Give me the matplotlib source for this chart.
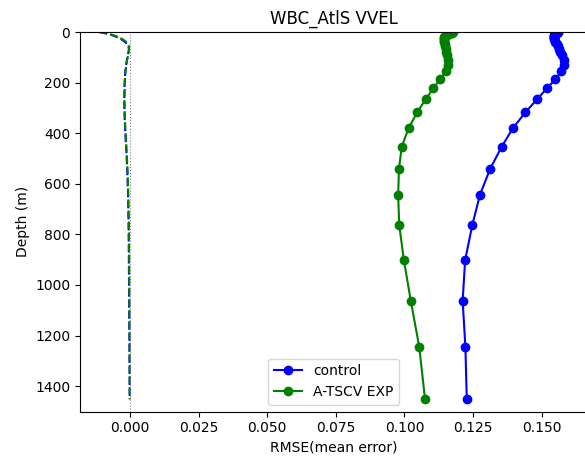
import numpy as np
import matplotlib
matplotlib.use("Agg")
import matplotlib.pyplot as plt

# GLORYS-like model levels (m) down to ~1450 m
depth = [0.5, 1.5, 2.6, 3.8, 5.1, 6.4, 7.9, 9.6, 11.4, 13.5, 15.8, 18.5, 21.6,
         25.2, 29.4, 34.4, 40.3, 47.4, 55.8, 65.8, 77.9, 92.3, 109.7, 130.7,
         155.9, 186.1, 222.5, 266.0, 318.1, 380.2, 453.9, 541.1, 643.6, 763.3,
         902.3, 1062.4, 1245.3, 1452.3]

rmse_control = [0.1560, 0.1558, 0.1556, 0.1554, 0.1552, 0.1550, 0.1549, 0.1548,
                0.1547, 0.1546, 0.1545, 0.1544, 0.1544, 0.1544, 0.1545, 0.1547,
                0.1550, 0.1554, 0.1558, 0.1563, 0.1568, 0.1574, 0.1580, 0.1582,
                0.1572, 0.1550, 0.1519, 0.1483, 0.1440, 0.1395, 0.1354, 0.1312,
                0.1275, 0.1247, 0.1221, 0.1212, 0.1222, 0.1227]

rmse_exp = [0.1178, 0.1175, 0.1172, 0.1169, 0.1166, 0.1163, 0.1160, 0.1157,
            0.1154, 0.1151, 0.1149, 0.1147, 0.1145, 0.1144, 0.1143, 0.1143,
            0.1144, 0.1146, 0.1148, 0.1151, 0.1153, 0.1156, 0.1159, 0.1160,
            0.1150, 0.1130, 0.1105, 0.1077, 0.1046, 0.1015, 0.0990, 0.0980,
            0.0977, 0.0981, 0.0998, 0.1023, 0.1054, 0.1075]

bias_control = [-0.0110, -0.0105, -0.0100, -0.0095, -0.0090, -0.0085, -0.0080,
                -0.0075, -0.0069, -0.0063, -0.0057, -0.0051, -0.0045, -0.0038,
                -0.0031, -0.0024, -0.0017, -0.0011, -0.0006, -0.0004, -0.0005,
                -0.0008, -0.0011, -0.0014, -0.0017, -0.0019, -0.0020, -0.0021,
                -0.0020, -0.0018, -0.0014, -0.0010, -0.0007, -0.0005, -0.0004,
                -0.0003, -0.0002, -0.0001]

bias_exp = [-0.0112, -0.0106, -0.0100, -0.0094, -0.0088, -0.0082, -0.0076,
            -0.0070, -0.0064, -0.0058, -0.0052, -0.0046, -0.0040, -0.0033,
            -0.0026, -0.0019, -0.0013, -0.0008, -0.0004, -0.0003, -0.0004,
            -0.0007, -0.0010, -0.0013, -0.0016, -0.0018, -0.0019, -0.0020,
            -0.0019, -0.0017, -0.0013, -0.0009, -0.0006, -0.0004, -0.0003,
            -0.0002, -0.0001, -0.0001]

fig = plt.figure(figsize=(5.85, 4.58), dpi=100)
ax = fig.add_axes([80 / 585, 1 - 411.5 / 458, 507 / 585, 379.5 / 458])

ax.plot(rmse_control, depth, "o-", color="blue", label="control")
ax.plot(rmse_exp, depth, "o-", color="green", label="A-TSCV EXP")
ax.plot(bias_control, depth, "--", color="blue")
ax.plot(bias_exp, depth, "--", color="green")
ax.axvline(0, color="gray", linestyle=":", linewidth=0.8)

ax.set_xlim(-0.0182, 0.1665)
ax.set_ylim(1500, 0)
ax.set_xticks([0.0, 0.025, 0.05, 0.075, 0.1, 0.125, 0.15])
ax.set_xlabel("RMSE(mean error)")
ax.set_ylabel("Depth (m)")
ax.set_title("WBC_AtlS VVEL")
ax.legend(loc="lower center")

fig.savefig("out.png", dpi=100)
